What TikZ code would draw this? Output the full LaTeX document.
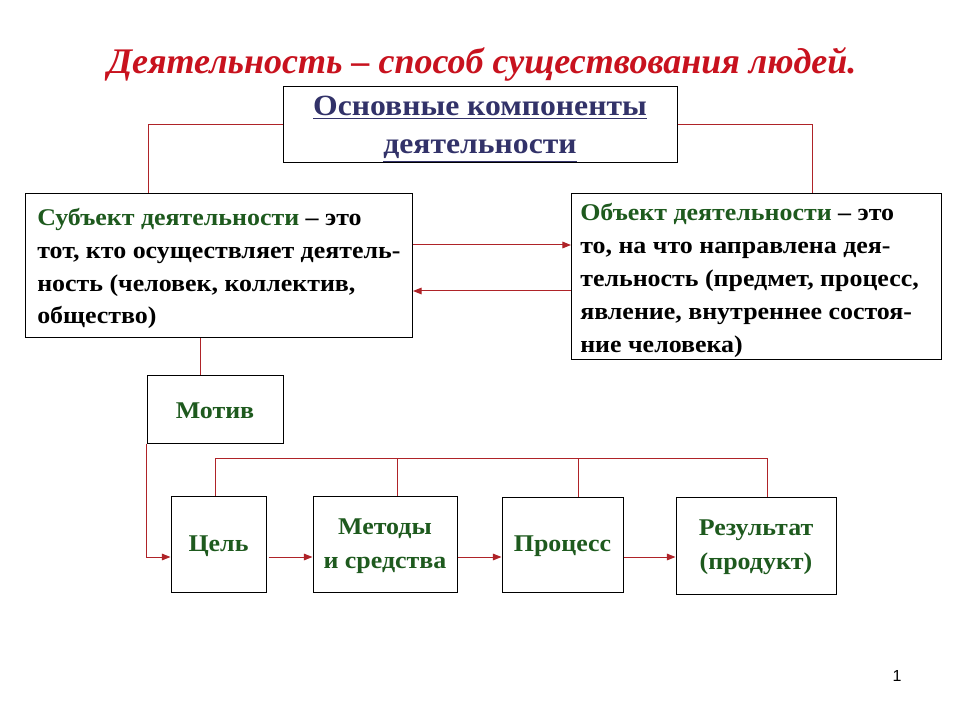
\documentclass[tikz,border=0pt]{standalone}
\usepackage{fontspec}
\setmainfont{Liberation Serif}
\newfontfamily\widefont[FakeStretch=1.08]{Liberation Serif}
\newfontfamily\numfont{Liberation Sans}
\usetikzlibrary{arrows.meta}
\definecolor{titlered}{RGB}{200,18,30}
\definecolor{hdblue}{RGB}{50,50,105}
\definecolor{dgreen}{RGB}{30,90,30}
\definecolor{linered}{RGB}{175,35,40}
\tikzset{
  bx/.style 2 args={draw=black, line width=0.75pt, minimum width=#1*0.75pt, minimum height=#2*0.75pt, inner sep=0pt},
  body/.style={font=\widefont\fontsize{18}{24.7}\selectfont\bfseries, align=left, inner sep=0pt},
  lbl/.style={font=\widefont\fontsize{18}{25.5}\selectfont\bfseries, text=dgreen, align=center, inner sep=0pt},
  conn/.style={draw=linered, line width=0.75pt},
  arr/.style={conn, -{Triangle[length=6.5pt,width=5pt]}, color=linered},
}
\begin{document}
\begin{tikzpicture}[x=0.75pt,y=-0.75pt]
\useasboundingbox[fill=white] (0,0) rectangle (960,720);

\node[font=\fontsize{27}{32}\selectfont\bfseries\itshape, text=titlered] (title) at (482,64) {Деятельность – способ существования людей.};

\node[bx={394}{76}] (main) at (480,125) {};
\node[align=center, text=hdblue, inner sep=0pt, font=\widefont\fontsize{22}{28.5}\selectfont\bfseries] (maintxt) at (480,129)
  {\underline{Основные компоненты}\\\underline{деятельности}};

\node[bx={387}{144}, anchor=north west] (subj) at (25,193) {};
\node[body, anchor=west] (subjtxt) at (37,268.5)
  {\textcolor{dgreen}{Субъект деятельности} – это\\тот, кто осуществляет деятель-\\ность (человек, коллектив,\\общество)};

\node[bx={370}{166}, anchor=north west] (obj) at (571,193) {};
\node[body, anchor=west] (objtxt) at (580,280.5)
  {\textcolor{dgreen}{Объект деятельности} – это\\то, на что направлена дея-\\тельность (предмет, процесс,\\явление, внутреннее состоя-\\ние человека)};

\node[bx={136}{68}] (motiv) at (215,409) {};
\node[bx={95}{96}] (cel) at (218.5,544) {};
\node[bx={144}{96}] (met) at (385,544) {};
\node[bx={121}{95}] (proc) at (562.5,544.5) {};
\node[bx={160}{97}] (res) at (756,545.5) {};

\node[lbl] (motivtxt) at (215,411) {Мотив};
\node[lbl] (celtxt) at (218.5,546.5) {Цель};
\node[lbl] (mettxt) at (385,546) {Методы\\и средства};
\node[lbl] (proctxt) at (562.5,546.5) {Процесс};
\node[lbl] (restxt) at (756,547.5) {Результат\\(продукт)};

\node[font=\numfont\fontsize{12}{14}\selectfont] (pnum) at (897,676) {1};

% top connectors
\draw[conn] (main.west) -| (subj.north -| 148,0);
\draw[conn] (main.east) -| (obj.north -| 812,0);

% subject <-> object
\draw[arr] (subj.east |- 0,245) -- (obj.west |- 0,245);
\draw[arr] (obj.west |- 0,291) -- (subj.east |- 0,291);

% subject -> motiv
\draw[conn] (subj.south -| 200,0) -- (motiv.north -| 200,0);

% motiv -> cel
\draw[arr] (motiv.south west) |- (cel.west |- 0,557);

% chain
\draw[arr] ([xshift=1.5pt]cel.east |- 0,557) -- (met.west |- 0,557);
\draw[arr] (met.east |- 0,557) -- (proc.west |- 0,557);
\draw[arr] (proc.east |- 0,557) -- (res.west |- 0,557);

% bus
\draw[conn] (cel.north -| 215,0) -- (215,458) -- (767,458) -- (res.north -| 767,0);
\draw[conn] (met.north -| 397,0) -- (397,458);
\draw[conn] (proc.north -| 578,0) -- (578,458);
\end{tikzpicture}
\end{document}
